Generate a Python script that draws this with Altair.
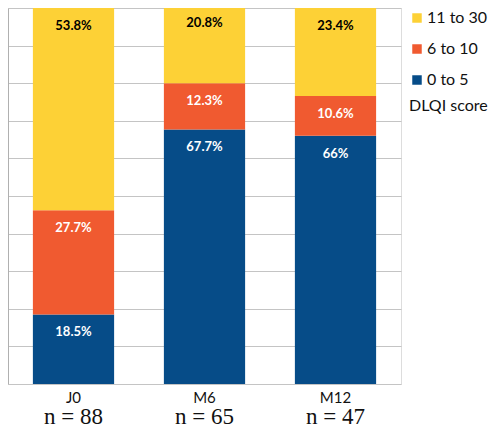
import altair as alt
import pandas as pd

times = ["J0", "M6", "M12"]
n_labels = ["n = 88", "n = 65", "n = 47"]
categories = ["0 to 5", "6 to 10", "11 to 30"]
vals_0_5 = [18.5, 67.7, 66.0]
vals_6_10 = [27.7, 12.3, 10.6]
vals_11_30 = [53.8, 20.8, 23.4]
label_text = {
    "0 to 5": ["18.5%", "67.7%", "66%"],
    "6 to 10": ["27.7%", "12.3%", "10.6%"],
    "11 to 30": ["53.8%", "20.8%", "23.4%"],
}

rows = []
for ci, (cat, vals) in enumerate(zip(categories, [vals_0_5, vals_6_10, vals_11_30])):
    for ti, t in enumerate(times):
        rows.append({"time": t, "cat": cat, "value": vals[ti], "rank": ci,
                     "label": label_text[cat][ti],
                     "dark": "black" if cat == "11 to 30" else "white"})
df = pd.DataFrame(rows)
ndf = pd.DataFrame({"time": times, "n": n_labels})

W, H = 393, 376
FONT = "Lato"

color_scale = alt.Scale(domain=["11 to 30", "6 to 10", "0 to 5"],
                        range=["#FDD136", "#F05A30", "#064C88"])
x_axis = alt.Axis(labelAngle=0, labelFont=FONT, labelFontSize=15,
                  labelColor="#111", labelPadding=6, ticks=False,
                  domain=False)
x_scale = alt.Scale(paddingInner=0.38, paddingOuter=0.19)
y_axis = alt.Axis(values=list(range(0, 101, 10)), labels=False,
                  ticks=False, grid=True, gridColor="#c4c4c4",
                  domainColor="#b0b0b0", gridWidth=1.2)
y_scale = alt.Scale(domain=[0, 100], nice=False)

base = alt.Chart(df).transform_stack(
    stack="value", groupby=["time"], as_=["y0", "y1"],
    sort=[alt.SortField("rank", order="ascending")])

bars = base.mark_bar(clip=True).encode(
    x=alt.X("time:N", sort=times, title=None, scale=x_scale, axis=x_axis),
    y=alt.Y("y0:Q", scale=y_scale, title=None, axis=y_axis),
    y2="y1:Q",
    color=alt.Color("cat:N", scale=color_scale,
                    legend=alt.Legend(title="DLQI score", orient="none",
                                      legendX=401, legendY=2,
                                      titleOrient="bottom", titleFont=FONT,
                                      titleFontSize=16, titleFontWeight="normal",
                                      titleColor="#111", titlePadding=10,
                                      labelFont=FONT, labelFontSize=16,
                                      labelColor="#111", symbolType="square",
                                      symbolSize=90, symbolStrokeWidth=0,
                                      rowPadding=15, labelOffset=2)),
)

texts = base.mark_text(font=FONT, fontSize=13, fontWeight="bold",
                       baseline="middle", dy=18).encode(
    x=alt.X("time:N", sort=times, title=None, scale=x_scale, axis=x_axis),
    y=alt.Y("y1:Q", scale=y_scale, title=None, axis=y_axis),
    text="label:N",
    color=alt.Color("dark:N", scale=None),
)

ntext = alt.Chart(ndf).mark_text(font="Liberation Serif", fontSize=23,
                                 baseline="middle", color="#111").encode(
    x=alt.X("time:N", sort=times, title=None, scale=x_scale, axis=x_axis),
    y=alt.value(H + 33),
    text="n:N",
)

chart = alt.layer(bars, texts, ntext).properties(
    width=W, height=H, padding=0
).configure_view(stroke="#b0b0b0", strokeWidth=1.5).configure(background="white")

chart.save("out.html", embed_options={"renderer": "svg", "actions": False})
